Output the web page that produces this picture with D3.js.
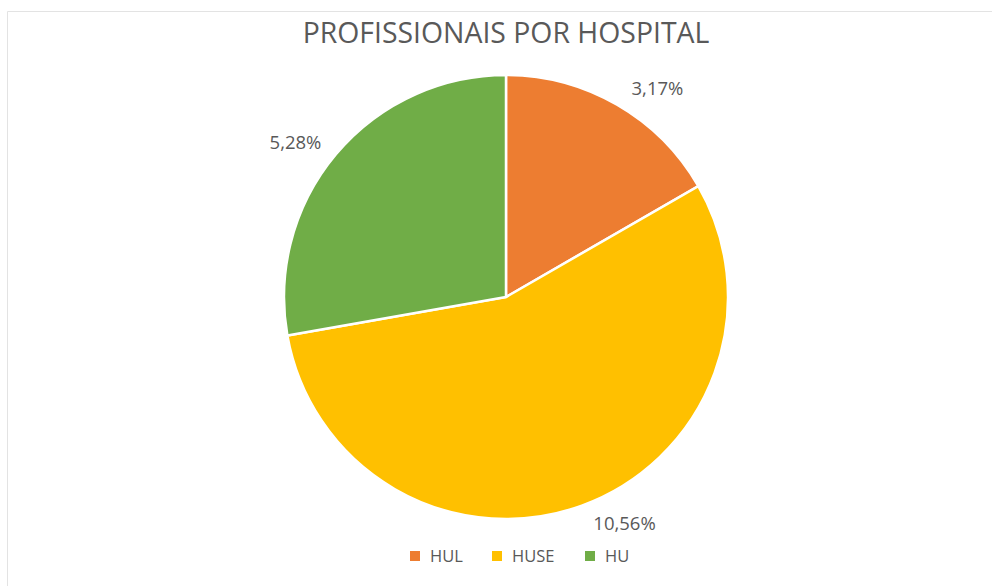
<!DOCTYPE html>
<meta charset="utf-8">
<style>
	body { margin: 0; background: #fff; }
	svg { display: block; font-family: "Open Sans", sans-serif; }
</style>
<svg width="992" height="586"></svg>
<script src="https://d3js.org/d3.v7.min.js"></script>
<script>
	var categories = ['HUL', 'HUSE', 'HU']
	var values = [3.17, 10.56, 5.28]
	var labels = ['3,17%', '10,56%', '5,28%']
	var colors = ['#ED7D31', '#FFC000', '#70AD47']

	var data = categories.map(function (c, i) {
		return { name: c, value: values[i], label: labels[i] }
	})

	var svg = d3.select('svg'),
		cx = 506,
		cy = 297,
		radius = 222

	// moldura clara do gráfico
	svg.append('path')
		.attr('d', 'M7.5,586 L7.5,11.5 L992,11.5')
		.attr('fill', 'none')
		.attr('stroke', '#e3e3e3')
		.attr('stroke-width', 1)

	svg.append('text')
		.attr('x', cx)
		.attr('y', 43)
		.attr('text-anchor', 'middle')
		.style('font-size', '28.4px')
		.style('fill', '#595959')
		.text('PROFISSIONAIS POR HOSPITAL')

	var color = d3.scaleOrdinal().domain(categories).range(colors)

	var pie = d3.pie().sort(null).value(function (d) { return d.value })
	var arc = d3.arc().innerRadius(0).outerRadius(radius)

	var g = svg.append('g').attr('transform', 'translate(' + cx + ',' + cy + ')')

	var arcs = pie(data)

	g.selectAll('.slice')
		.data(arcs)
		.enter()
		.append('path')
		.attr('class', 'slice')
		.attr('d', arc)
		.attr('fill', function (d) { return color(d.data.name) })
		.attr('stroke', '#fff')
		.attr('stroke-width', 2.5)

	// rótulos fora da fatia
	var labelR = 241
	g.selectAll('.lbl')
		.data(arcs)
		.enter()
		.append('text')
		.attr('class', 'lbl')
		.attr('x', function (d) {
			var a = (d.startAngle + d.endAngle) / 2
			return Math.sin(a) * labelR + (Math.sin(a) > 0 ? 5 : 0)
		})
		.attr('y', function (d) {
			var a = (d.startAngle + d.endAngle) / 2
			return -Math.cos(a) * labelR
		})
		.attr('dy', '0.35em')
		.attr('text-anchor', function (d) {
			var a = (d.startAngle + d.endAngle) / 2
			return Math.sin(a) > 0 ? 'start' : 'end'
		})
		.style('font-size', '18.5px')
		.style('fill', '#595959')
		.text(function (d) { return d.data.label })

	// legenda
	var legendX = [410, 492, 585]
	var legend = svg.append('g')
		.selectAll('g')
		.data(categories)
		.enter()
		.append('g')
		.attr('transform', function (d, i) { return 'translate(' + legendX[i] + ',551)' })

	legend.append('rect')
		.attr('width', 10)
		.attr('height', 10)
		.attr('fill', function (d) { return color(d) })

	legend.append('text')
		.attr('x', 20)
		.attr('y', 5)
		.attr('dy', '0.35em')
		.style('font-size', '16.5px')
		.style('fill', '#595959')
		.text(function (d) { return d })
</script>
